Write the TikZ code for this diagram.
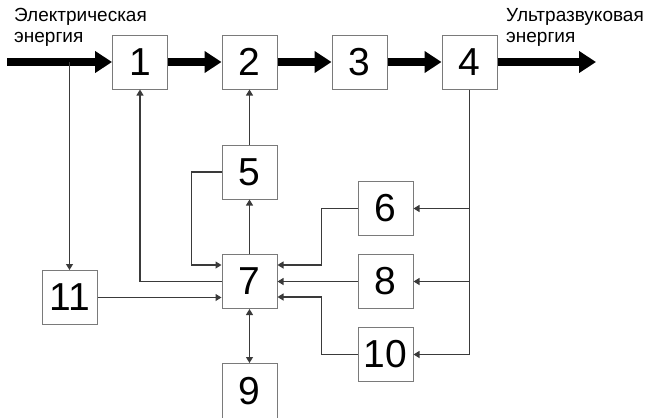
\documentclass[tikz,border=0pt]{standalone}
\usepackage{fontspec}
\setmainfont{Liberation Sans}
\usetikzlibrary{arrows.meta}
\definecolor{boxgray}{HTML}{7A7A7A}
\definecolor{linegray}{HTML}{3A3A3A}
\begin{document}
\begin{tikzpicture}[x=1pt,y=-1pt,
  blk/.style={draw=boxgray, line width=1pt, minimum width=55pt, minimum height=54pt,
              inner sep=0pt, font=\fontsize{39}{39}\selectfont},
  flow/.style={line width=7.5pt, -{Triangle[length=17pt,width=21pt]}},
  ln/.style={draw=linegray, line width=1.1pt},
  arr/.style={ln, -{Triangle[length=6pt,width=7pt]}},
  darr/.style={ln, {Triangle[length=6pt,width=7pt]}-{Triangle[length=6pt,width=7pt]}},
  lbl/.style={font=\fontsize{19}{21}\selectfont, anchor=base west, inner sep=0pt}]
\useasboundingbox (0,0) rectangle (646,418);

% blocks
\node[blk] (b1) at (140,62) {1};
\node[blk] (b2) at (249.5,62) {2};
\node[blk] (b3) at (359.5,62) {3};
\node[blk] (b4) at (469.5,62) {4};
\node[blk] (b5) at (249.5,172) {5};
\node[blk] (b6) at (385.5,208.5) {6};
\node[blk] (b7) at (249.5,281.5) {7};
\node[blk] (b8) at (385.5,281.5) {8};
\node[blk, minimum height=56pt] (b9) at (249.5,391.5) {9};
\node[blk] (b10) at (385.5,354.5) {10};
\node[blk] (b11) at (69.5,297.5) {11};

% input and output labels
\node[lbl] (tin1) at (14,21) {Электрическая};
\node[lbl] (tin2) at (14,42) {энергия};
\node[lbl] (tout1) at (506,21) {Ультразвуковая};
\node[lbl] (tout2) at (506,42) {энергия};

\coordinate (in) at (7,62);
\coordinate (out) at (596,62);

% main energy path
\draw[flow] (in) -- (b1.west);
\draw[flow] (b1.east) -- (b2.west);
\draw[flow] (b2.east) -- (b3.west);
\draw[flow] (b3.east) -- (b4.west);
\draw[flow] (b4.east) -- (out);

% control links
\draw[arr] (in -| b11.north) -- (b11.north);
\draw[arr] (b7.west) -| (b1.south);
\draw[arr] (b7.north) -- (b5.south);
\draw[arr] (b5.north) -- (b2.south);
\draw[arr] (b5.west) -- ++(-30,0) |- ([yshift=16.5pt]b7.west);
\draw[arr] (b11.east) -- (b11.east -| b7.west);
\draw[darr] (b7.south) -- (b9.north);

% feedback from block 4
\draw[ln] (b4.south) -- (b4.south |- b10.east);
\draw[arr] (b4.south |- b6.east) -- (b6.east);
\draw[arr] (b4.south |- b8.east) -- (b8.east);
\draw[arr] (b4.south |- b10.east) -- (b10.east);

\draw[arr] (b6.west) -- ++(-36,0) |- ([yshift=16.5pt]b7.east);
\draw[arr] (b8.west) -- (b7.east);
\draw[arr] (b10.west) -- ++(-36,0) |- ([yshift=-15.5pt]b7.east);
\end{tikzpicture}
\end{document}
